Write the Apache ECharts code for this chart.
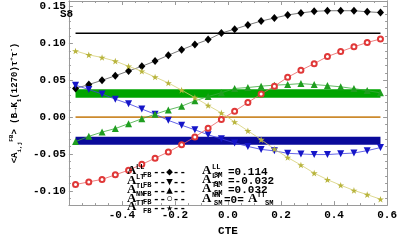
<!DOCTYPE html>
<html><head><meta charset="utf-8">
<script src="https://cdn.jsdelivr.net/npm/echarts@6/dist/echarts.min.js"></script>
<style>html,body{margin:0;padding:0;background:#fff}#c{width:400px;height:242px}</style>
</head><body><div id="c"></div>
<script>
// ---- data ----
const cte = [-0.575,-0.525,-0.475,-0.425,-0.375,-0.325,-0.275,-0.225,-0.175,-0.125,-0.075,-0.025,0.025,0.075,0.125,0.175,0.225,0.275,0.325,0.375,0.425,0.475,0.525,0.575];
const aLL = [0.0389,0.0442,0.0500,0.0561,0.0627,0.0690,0.0760,0.0840,0.0915,0.0986,0.1052,0.1141,0.1194,0.1251,0.1304,0.1345,0.1386,0.1414,0.1436,0.1444,0.1444,0.1444,0.1430,0.1419];
const aLT = [0.0434,0.0375,0.0314,0.0243,0.0182,0.0110,0.0040,-0.0044,-0.0110,-0.0172,-0.0239,-0.0295,-0.0350,-0.0398,-0.0438,-0.0458,-0.0491,-0.0500,-0.0508,-0.0508,-0.0497,-0.0487,-0.0455,-0.0413];
const aTL = [-0.0332,-0.0261,-0.0203,-0.0155,-0.0089,-0.0023,0.0040,0.0098,0.0148,0.0221,0.0279,0.0330,0.0389,0.0402,0.0420,0.0434,0.0442,0.0455,0.0442,0.0428,0.0411,0.0387,0.0360,0.0330];
const aNN = [-0.0915,-0.0879,-0.0845,-0.0783,-0.0720,-0.0641,-0.0557,-0.0473,-0.0375,-0.0269,-0.0150,-0.0031,0.0080,0.0199,0.0314,0.0420,0.0540,0.0637,0.0726,0.0822,0.0889,0.0955,0.1012,0.1061];
const aTT = [0.0898,0.0845,0.0809,0.0760,0.0690,0.0623,0.0544,0.0464,0.0367,0.0265,0.0159,0.0057,-0.0066,-0.0186,-0.0305,-0.0434,-0.0548,-0.0650,-0.0760,-0.0849,-0.0924,-0.0995,-0.1052,-0.1114];
const smLL = 0.114, smLT = -0.032, smTL = 0.032, smNN = 0.0;
const yTickLabels = [-0.10,-0.05,0.00,0.05,0.10,0.15];
const xMin = -0.6, xMax = 0.6, xStep = 0.2;
const yMin = -0.1194, yMax = 0.1576;

// ---- helpers ----
const pairs = ys => cte.map((x, i) => [x, ys[i]]);
const flat = v => [[cte[0], v], [cte[cte.length - 1], v]];
const yMinor = [];
for (let k = -11; k <= 15; k++) { if (k % 5 !== 0) yMinor.push(k / 100); }
const STAR = 'path://M50,0 L61,35 L98,35 L68,57 L79,91 L50,70 L21,91 L32,57 L2,35 L39,35 Z';
const MONO = '"Liberation Mono", "Courier New", monospace';
const SERIF = '"Liberation Serif", "Times New Roman", serif';
const frame = '#9a9a9a';

function yAx(pos, vals, len, labels, extra) {
  return Object.assign({
    type: 'value', min: yMin, max: yMax, position: pos,
    axisLine: { show: true, onZero: false, lineStyle: { color: frame, width: 1 } },
    axisTick: { show: true, inside: true, length: len, customValues: vals, lineStyle: { color: frame } },
    axisLabel: labels ? { show: true, customValues: yTickLabels, formatter: v => v.toFixed(2), margin: 3,
      color: '#000', fontFamily: MONO, fontWeight: 'bold', fontSize: 11 } : { show: false },
    splitLine: { show: false }
  }, extra || {});
}
function xAx(pos, labels) {
  return {
    type: 'value', min: xMin, max: xMax, interval: xStep, position: pos,
    axisLine: { show: true, onZero: false, lineStyle: { color: frame, width: 1 } },
    axisTick: { show: true, inside: true, length: 4, lineStyle: { color: frame } },
    minorTick: { show: true, splitNumber: 4, length: 2, lineStyle: { color: frame } },
    axisLabel: labels ? { show: true, margin: 5, color: '#000', fontFamily: MONO, fontWeight: 'bold', fontSize: 11,
      formatter: v => (Math.abs(v - xMin) < 1e-9 ? '' : v.toFixed(1)) } : { show: false },
    splitLine: { show: false },
    name: labels ? 'CTE' : '', nameLocation: 'middle', nameGap: 20,
    nameTextStyle: { color: '#000', fontFamily: MONO, fontWeight: 'bold', fontSize: 11 }
  };
}

function lineSeries(name, ys, symbol, size, color, lineColor, extra) {
  return Object.assign({
    name, type: 'line', data: pairs(ys), symbol, symbolSize: size,
    showAllSymbol: true, z: 5,
    lineStyle: { color: lineColor, width: 0.8 },
    itemStyle: { color }, emphasis: { disabled: true }, animation: false
  }, extra || {});
}
function smSeries(name, v, color, width) {
  return { name, type: 'line', data: flat(v), symbol: 'none', showSymbol: false, z: 2,
    lineStyle: { color, width }, emphasis: { disabled: true }, animation: false };
}

// ---- legend text (graphic) ----
const graphics = [];
function txt(x, y, text, font, extra) {
  graphics.push({ type: 'text', x, y, z: 100, style: Object.assign({ text, font, fill: '#000', verticalAlign: 'middle', align: 'left' }, extra || {}) });
}
function symA(x, y, sup, sub, supX, subX) {
  txt(x, y, 'A', 'bold 13px ' + SERIF);
  txt(x + supX, y - 4, sup, 'bold 7px ' + MONO);
  txt(x + subX, y + 4, sub, 'bold 7px ' + MONO);
}
const leftRows = [['LL','◆'],['LT','▼'],['TL','▲'],['NN','○'],['TT','★']];
const leftY = [171, 181, 190, 198.5, 207];
leftRows.forEach((r, i) => {
  symA(127, leftY[i], r[0], 'FB', 9, 16);
  txt(153, leftY[i] + 1, '--' + r[1] + '--', 'bold 11px ' + MONO);
});
const rightRows = [['LL', '=' + smLL.toFixed(3)], ['LT', '=' + smLT.toFixed(3)], ['TL', '=' + smTL.toFixed(3)]];
const rightY = [171, 180, 189, 199];
rightRows.forEach((r, i) => {
  symA(202, rightY[i], r[0], 'SM', 10, 12);
  txt(228, rightY[i] + 1, r[1], 'bold 11px ' + MONO);
});
symA(202, rightY[3], 'NN', 'SM', 10, 12);
txt(224, rightY[3] + 1, '=' + smNN.toFixed(0) + '=', 'bold 11px ' + MONO);
symA(248, rightY[3], 'TT', 'SM', 9, 17);
txt(60, 14, 'S8', 'bold 11px ' + MONO);

const chart = echarts.init(document.getElementById('c'), null, { renderer: 'canvas' });
chart.setOption({
  backgroundColor: '#fff',
  animation: false,
  grid: { left: 48, right: 10, top: 1, bottom: 31, containLabel: false },
  xAxis: [xAx('bottom', true), xAx('top', false)],
  yAxis: [
    yAx('left', yTickLabels, 4, true, {
      name: '{t|<A}{sub|i,j}{sup|FB}{t|> (B→K}{sub|1}{t|(1270)τ}{sup|+}{t|τ}{sup|-}{t|)}',
      nameLocation: 'middle', nameRotate: 90, nameGap: 38,
      nameTextStyle: { color: '#000', rich: {
        t: { fontFamily: MONO, fontWeight: 'bold', fontSize: 9, color: '#000', lineHeight: 14, verticalAlign: 'middle' },
        sub: { fontFamily: MONO, fontWeight: 'bold', fontSize: 6, color: '#000', lineHeight: 14, verticalAlign: 'bottom' },
        sup: { fontFamily: MONO, fontWeight: 'bold', fontSize: 6, color: '#000', lineHeight: 14, verticalAlign: 'top' }
      } }
    }),
    yAx('left', yMinor, 2, false),
    yAx('right', yTickLabels, 4, false),
    yAx('right', yMinor, 2, false)
  ],
  series: [
    smSeries('SM LL', smLL, '#000000', 1.5),
    smSeries('SM TL', smTL, '#00a400', 8.5),
    smSeries('SM LT', smLT, '#0a0a9a', 8),
    smSeries('SM NN=TT', smNN, '#cc8a2e', 1.6),
    lineSeries('LL FB', aLL, 'diamond', [7, 8], '#000000', '#555555'),
    lineSeries('LT FB', aLT, 'triangle', 7, '#1515c8', '#3d3de0', { symbolRotate: 180 }),
    lineSeries('TL FB', aTL, 'triangle', 7, '#1f9e1f', '#3aaa3a'),
    lineSeries('NN FB', aNN, 'emptyCircle', 5, '#e03838', '#e86060', { itemStyle: { color: '#e03838', borderWidth: 1 } }),
    lineSeries('TT FB', aTT, STAR, 7, '#b8b43c', '#d6cf74', { symbolKeepAspect: true })
  ],
  graphic: graphics
});
</script>
</body></html>
